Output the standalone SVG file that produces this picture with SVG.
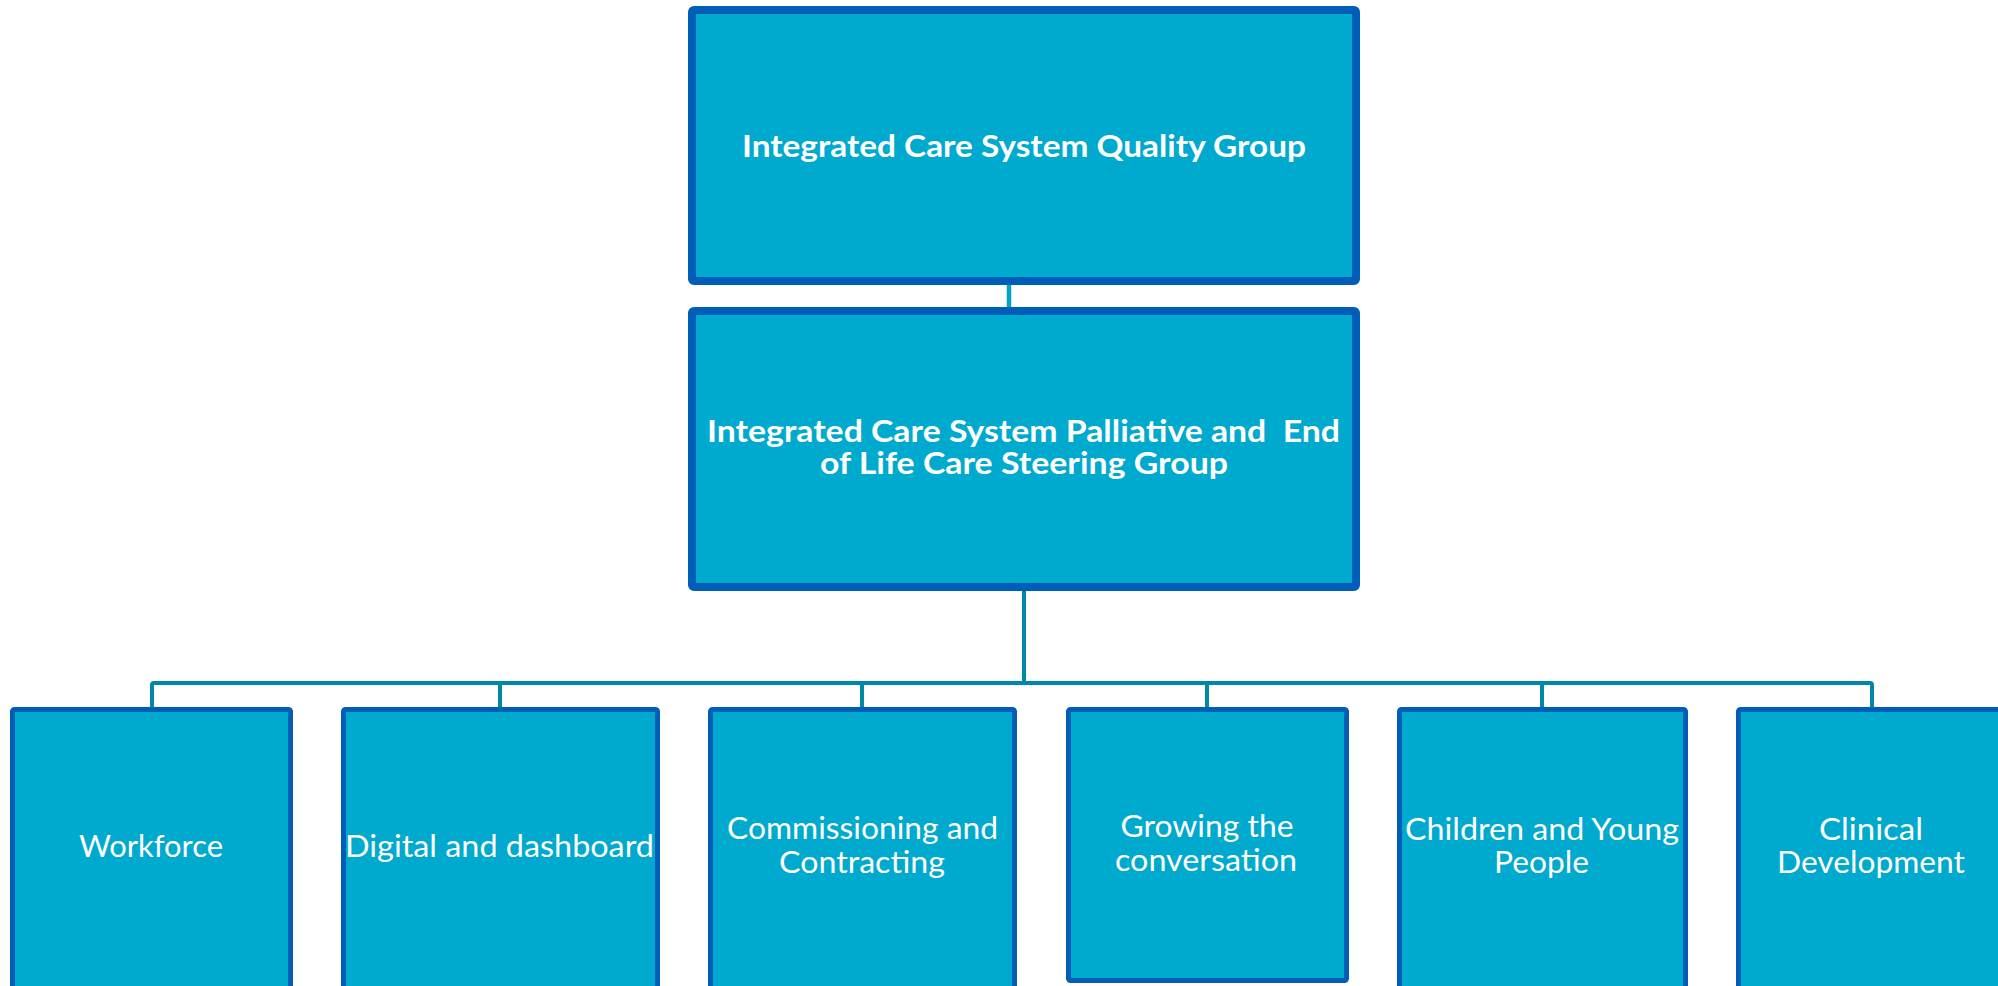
<svg xmlns="http://www.w3.org/2000/svg" width="1998" height="986" viewBox="0 0 1998 986">
  <style>
    .box { fill: #00A9CE; stroke: #005EB8; stroke-linejoin: round; }
    .main { stroke-width: 8; }
    .sub { stroke-width: 5; }
    .title { font-family: Lato, "Open Sans", "DejaVu Sans", sans-serif; font-weight: bold; font-size: 30px; fill: #FFFFFF; text-anchor: middle; white-space: pre; }
    .label { font-family: Lato, "Open Sans", "DejaVu Sans", sans-serif; font-size: 30px; fill: #FFFFFF; text-anchor: middle; }
    .link { fill: none; stroke: #0088A8; stroke-width: 4; stroke-linejoin: round; }
    .link-top { fill: none; stroke: #00A3C9; stroke-width: 4.5; }
  </style>
  <rect width="1998" height="986" fill="#FFFFFF"/>

  <!-- connectors -->
  <g id="connectors">
    <line class="link-top" x1="1009" y1="285" x2="1009" y2="308"/>
    <line class="link" x1="1024" y1="591" x2="1024" y2="683"/>
    <path class="link" d="M152,708 V685 Q152,683 154,683 H1870 Q1872,683 1872,685 V708"/>
    <line class="link" x1="500" y1="683" x2="500" y2="708"/>
    <line class="link" x1="862" y1="683" x2="862" y2="708"/>
    <line class="link" x1="1207" y1="683" x2="1207" y2="708"/>
    <line class="link" x1="1542" y1="683" x2="1542" y2="708"/>
  </g>

  <!-- top level -->
  <g id="node-quality-group">
    <rect class="box main" x="692" y="10" width="664" height="271" rx="2"/>
    <text class="title" x="1024" y="157" textLength="564" lengthAdjust="spacingAndGlyphs">Integrated Care System Quality Group</text>
  </g>

  <g id="node-steering-group">
    <rect class="box main" x="692" y="311" width="664" height="276" rx="2"/>
    <text class="title" x="1023.5" y="442" textLength="633" lengthAdjust="spacingAndGlyphs">Integrated Care System Palliative and  End</text>
    <text class="title" x="1024" y="474" textLength="408" lengthAdjust="spacingAndGlyphs">of Life Care Steering Group</text>
  </g>

  <!-- workstreams -->
  <g id="node-workforce">
    <rect class="box sub" x="12.5" y="709.5" width="278" height="290" rx="2"/>
    <text class="label" x="151" y="857" textLength="144" lengthAdjust="spacingAndGlyphs">Workforce</text>
  </g>

  <g id="node-digital">
    <rect class="box sub" x="343.5" y="709.5" width="314" height="290" rx="2"/>
    <text class="label" x="499.5" y="857" textLength="309" lengthAdjust="spacingAndGlyphs">Digital and dashboard</text>
  </g>

  <g id="node-commissioning">
    <rect class="box sub" x="710.5" y="709.5" width="304" height="290" rx="2"/>
    <text class="label" x="862.5" y="839" textLength="271" lengthAdjust="spacingAndGlyphs">Commissioning and</text>
    <text class="label" x="862" y="873" textLength="166" lengthAdjust="spacingAndGlyphs">Contracting</text>
  </g>

  <g id="node-conversation">
    <rect class="box sub" x="1068.5" y="709.5" width="278" height="271" rx="2"/>
    <text class="label" x="1207" y="837" textLength="173" lengthAdjust="spacingAndGlyphs">Growing the</text>
    <text class="label" x="1206" y="871" textLength="182" lengthAdjust="spacingAndGlyphs">conversation</text>
  </g>

  <g id="node-children">
    <rect class="box sub" x="1399.5" y="709.5" width="286" height="290" rx="2"/>
    <text class="label" x="1542" y="840" textLength="274" lengthAdjust="spacingAndGlyphs">Children and Young</text>
    <text class="label" x="1541.5" y="873" textLength="95" lengthAdjust="spacingAndGlyphs">People</text>
  </g>

  <g id="node-clinical">
    <rect class="box sub" x="1738.5" y="709.5" width="280" height="290" rx="2"/>
    <text class="label" x="1871" y="840" textLength="104" lengthAdjust="spacingAndGlyphs">Clinical</text>
    <text class="label" x="1871" y="873" textLength="188" lengthAdjust="spacingAndGlyphs">Development</text>
  </g>
</svg>
